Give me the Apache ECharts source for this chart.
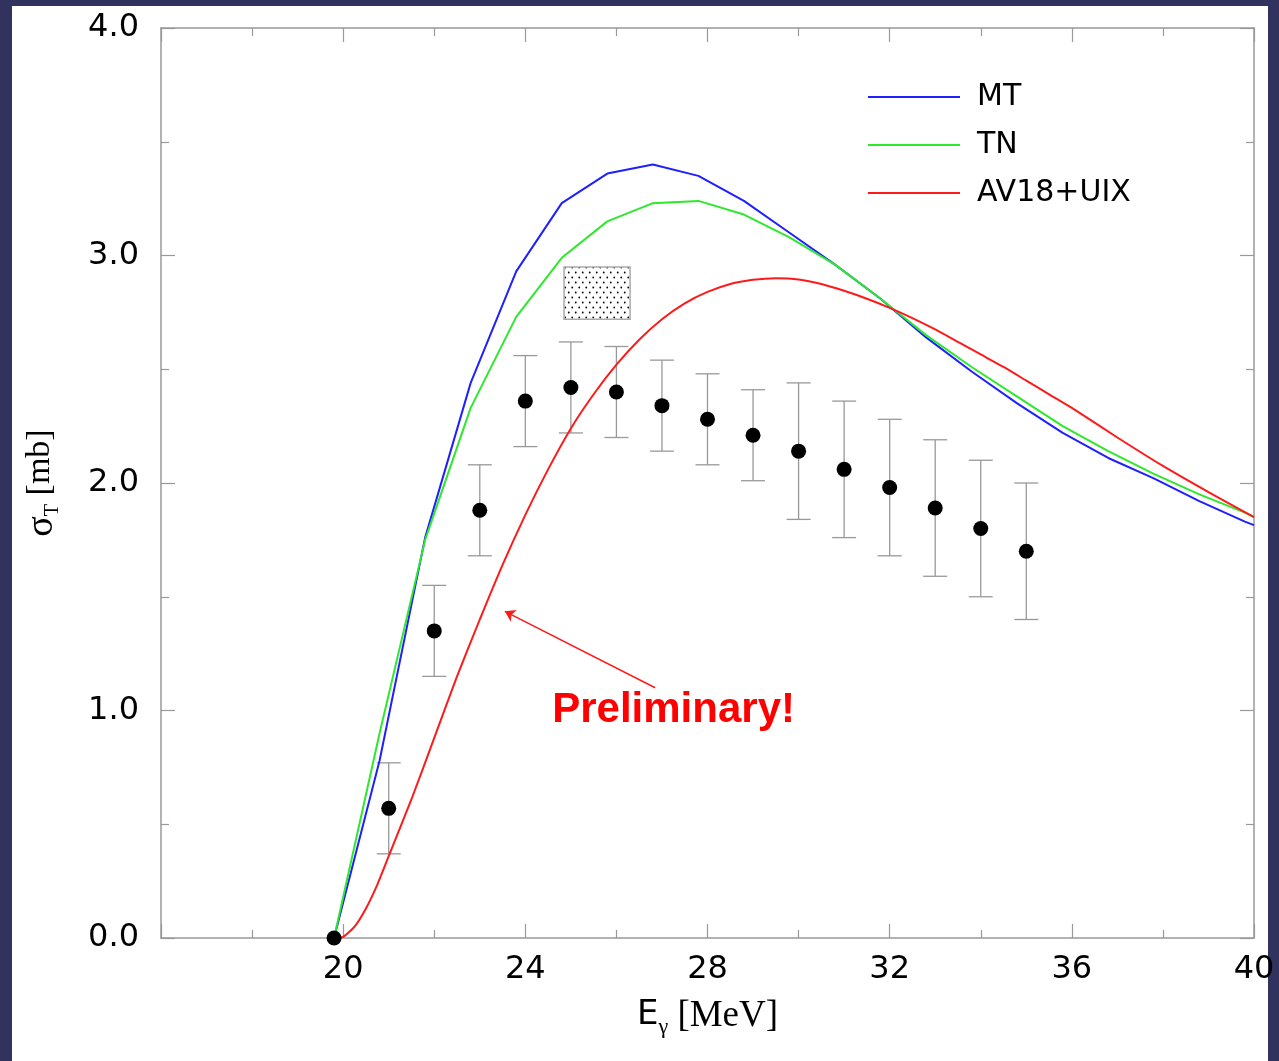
<!DOCTYPE html>
<html>
<head>
<meta charset="utf-8">
<script src="https://cdn.jsdelivr.net/npm/echarts@6/dist/echarts.min.js"></script>
<style>
html, body { margin: 0; padding: 0; background: #32325f; }
#chart { width: 1279px; height: 1061px; }
</style>
</head>
<body>
<div id="chart"></div>
<script>
// photon energy [MeV] and total cross section [mb]
var eMT = [19.8, 20.8, 21.8, 22.8, 23.8, 24.8, 25.8, 26.8, 27.8, 28.8, 29.8, 30.8, 31.8, 32.8, 33.8, 34.8, 35.8, 36.8, 37.8, 38.8, 39.8, 40];
var sigmaMT = [0, 0.78, 1.76, 2.44, 2.93, 3.23, 3.36, 3.40, 3.35, 3.24, 3.10, 2.96, 2.81, 2.64, 2.49, 2.35, 2.22, 2.11, 2.02, 1.92, 1.83, 1.815];

var eTN = [19.8, 20.8, 21.8, 22.8, 23.8, 24.8, 25.8, 26.8, 27.8, 28.8, 29.8, 30.8, 31.8, 32.8, 33.8, 34.8, 35.8, 36.8, 37.8, 38.8, 39.8, 40];
var sigmaTN = [0, 0.90, 1.75, 2.33, 2.73, 2.99, 3.15, 3.23, 3.24, 3.18, 3.08, 2.96, 2.81, 2.65, 2.51, 2.38, 2.25, 2.14, 2.04, 1.95, 1.87, 1.85];

var eAV = [19.8, 20.0, 20.25, 20.5, 20.75, 21.0, 21.5, 22.0, 22.5, 23.0, 23.5, 24.0, 24.5, 25.0, 25.5, 26.0, 26.5, 27.0, 27.5, 28.0, 28.5, 29.0, 29.5, 30.0, 30.5, 31.0, 31.5, 32.0, 32.5, 33.0, 33.5, 34.0, 34.5, 35.0, 35.5, 36.0, 37.0, 38.0, 39.0, 40.0];
var sigmaAV = [0, 0.005, 0.05, 0.13, 0.235, 0.36, 0.61, 0.88, 1.15, 1.40, 1.64, 1.86, 2.06, 2.24, 2.39, 2.52, 2.63, 2.72, 2.79, 2.84, 2.875, 2.893, 2.90, 2.895, 2.875, 2.845, 2.81, 2.77, 2.725, 2.675, 2.62, 2.565, 2.51, 2.45, 2.39, 2.33, 2.20, 2.075, 1.96, 1.85];

var eExp = [19.8, 21, 22, 23, 24, 25, 26, 27, 28, 29, 30, 31, 32, 33, 34, 35];
var sigmaExp = [0, 0.57, 1.35, 1.88, 2.36, 2.42, 2.40, 2.34, 2.28, 2.21, 2.14, 2.06, 1.98, 1.89, 1.80, 1.70];
var errExp = [0, 0.2, 0.2, 0.2, 0.2, 0.2, 0.2, 0.2, 0.2, 0.2, 0.3, 0.3, 0.3, 0.3, 0.3, 0.3];

// shaded box (energy range, cross-section range)
var boxE = [24.85, 26.3];
var boxSigma = [2.72, 2.95];

var seriesNames = ['MT', 'TN', 'AV18+UIX'];

function pairs(xs, ys) {
  var out = [];
  for (var i = 0; i < xs.length; i++) out.push([xs[i], ys[i]]);
  return out;
}

function dotPattern() {
  var c = document.createElement('canvas');
  c.width = 7; c.height = 10;
  var ctx = c.getContext('2d');
  ctx.fillStyle = '#fff';
  ctx.fillRect(0, 0, 7, 10);
  ctx.fillStyle = '#000';
  ctx.beginPath(); ctx.arc(1.75, 2.5, 0.9, 0, Math.PI * 2); ctx.fill();
  ctx.beginPath(); ctx.arc(5.25, 7.5, 0.9, 0, Math.PI * 2); ctx.fill();
  return c;
}

var errData = [];
for (var i = 0; i < eExp.length; i++) {
  if (errExp[i] > 0) errData.push([eExp[i], sigmaExp[i] - errExp[i], sigmaExp[i] + errExp[i]]);
}

var sans = 'DejaVu Sans';
var serif = 'Liberation Serif';
var axisGray = '#999';

function axisCommon(isX, pos, labels) {
  return {
    type: 'value',
    position: pos,
    min: isX ? 16 : 0,
    max: isX ? 40 : 4,
    interval: isX ? 4 : 1,
    axisLine: { show: true, onZero: false, lineStyle: { color: axisGray, width: 1.5 } },
    axisTick: { show: true, inside: true, length: 14, lineStyle: { color: axisGray, width: 1.2 } },
    minorTick: { show: true, splitNumber: 2, length: 8, lineStyle: { color: axisGray, width: 1.2 } },
    splitLine: { show: false },
    axisLabel: { show: labels }
  };
}

var xBottom = axisCommon(true, 'bottom', true);
xBottom.axisLabel = {
  show: true, color: '#000', fontFamily: sans, fontSize: 32, margin: 16,
  formatter: function (v) { return v === 16 ? '' : String(v); }
};
xBottom.name = '{e|E}{g|γ}{m| [MeV]}';
xBottom.nameLocation = 'middle';
xBottom.nameGap = 60;
xBottom.nameTextStyle = {
  color: '#000',
  rich: {
    e: { fontFamily: sans, fontSize: 34, color: '#000', lineHeight: 40, verticalAlign: 'top' },
    g: { fontFamily: serif, fontSize: 22, color: '#000', lineHeight: 20, verticalAlign: 'bottom' },
    m: { fontFamily: serif, fontSize: 37, color: '#000', lineHeight: 40, verticalAlign: 'top' }
  }
};

var yLeft = axisCommon(false, 'left', true);
yLeft.axisLabel = {
  show: true, color: '#000', fontFamily: sans, fontSize: 32, margin: 22,
  formatter: function (v) { return v.toFixed(1); }
};
yLeft.name = '{s|σ}{t|T}{b| [mb]}';
yLeft.nameLocation = 'middle';
yLeft.nameGap = 98;
yLeft.nameTextStyle = {
  color: '#000',
  rich: {
    s: { fontFamily: serif, fontSize: 38, color: '#000', lineHeight: 40, verticalAlign: 'top' },
    t: { fontFamily: serif, fontSize: 20, color: '#000', lineHeight: 20, verticalAlign: 'bottom' },
    b: { fontFamily: serif, fontSize: 34, color: '#000', lineHeight: 40, verticalAlign: 'top' }
  }
};

var chart = echarts.init(document.getElementById('chart'));
var option = {
  animation: false,
  backgroundColor: '#32325f',
  graphic: [{
    type: 'rect', left: 12, top: 6, z: -10,
    shape: { width: 1256, height: 1055 },
    style: { fill: '#fff' }
  }],
  grid: { left: 161, right: 25, top: 28, bottom: 123, containLabel: false },
  legend: {
    orient: 'vertical', left: 863, top: 76,
    itemWidth: 92, itemHeight: 2, itemGap: 16,
    icon: 'rect',
    data: seriesNames,
    textStyle: { fontFamily: sans, fontSize: 30, color: '#000', lineHeight: 32, padding: [0, 0, 0, 12] }
  },
  xAxis: [xBottom, axisCommon(true, 'top', false)],
  yAxis: [yLeft, axisCommon(false, 'right', false)],
  series: [
    {
      name: 'MT', type: 'line', data: pairs(eMT, sigmaMT), symbol: 'none', z: 3,
      lineStyle: { color: '#1f1fff', width: 2 }, itemStyle: { color: '#1f1fff' }
    },
    {
      name: 'TN', type: 'line', data: pairs(eTN, sigmaTN), symbol: 'none', z: 3,
      lineStyle: { color: '#2ee82e', width: 2 }, itemStyle: { color: '#2ee82e' }
    },
    {
      name: 'AV18+UIX', type: 'line', data: pairs(eAV, sigmaAV), symbol: 'none', z: 3,
      smooth: 0.2,
      lineStyle: { color: '#ff1a1a', width: 2 }, itemStyle: { color: '#ff1a1a' },
      markLine: {
        silent: true, symbol: ['none', 'arrow'], symbolSize: 10,
        lineStyle: { color: '#ff1a1a', width: 1.5, type: 'solid' },
        label: { show: false },
        data: [[{ coord: [26.85, 1.10] }, { coord: [23.55, 1.436] }]]
      },
      markPoint: {
        silent: true, symbol: 'circle', symbolSize: 0,
        label: {
          show: true, position: 'right', distance: 0, formatter: 'Preliminary!',
          color: '#ff0000', fontFamily: 'Liberation Sans', fontWeight: 'bold', fontSize: 42
        },
        data: [{ coord: [24.59, 1.0] }]
      }
    },
    {
      name: 'errors', type: 'custom', z: 2, silent: true,
      data: errData,
      encode: { x: 0, y: [1, 2] },
      renderItem: function (params, api) {
        var x = api.value(0);
        var top = api.coord([x, api.value(2)]);
        var bot = api.coord([x, api.value(1)]);
        var cap = 12;
        var st = { stroke: '#999', lineWidth: 1.3 };
        return {
          type: 'group',
          children: [
            { type: 'line', shape: { x1: top[0], y1: top[1], x2: bot[0], y2: bot[1] }, style: st },
            { type: 'line', shape: { x1: top[0] - cap, y1: top[1], x2: top[0] + cap, y2: top[1] }, style: st },
            { type: 'line', shape: { x1: bot[0] - cap, y1: bot[1], x2: bot[0] + cap, y2: bot[1] }, style: st }
          ]
        };
      }
    },
    {
      name: 'data', type: 'scatter', z: 4, silent: true,
      data: pairs(eExp, sigmaExp),
      symbol: 'circle', symbolSize: 15,
      itemStyle: { color: '#000', opacity: 1 },
      markArea: {
        silent: true,
        itemStyle: { color: { image: dotPattern(), repeat: 'repeat' }, borderColor: '#aaa', borderWidth: 1.5 },
        data: [[{ coord: [boxE[0], boxSigma[1]] }, { coord: [boxE[1], boxSigma[0]] }]]
      }
    }
  ]
};
chart.setOption(option);
</script>
</body>
</html>
